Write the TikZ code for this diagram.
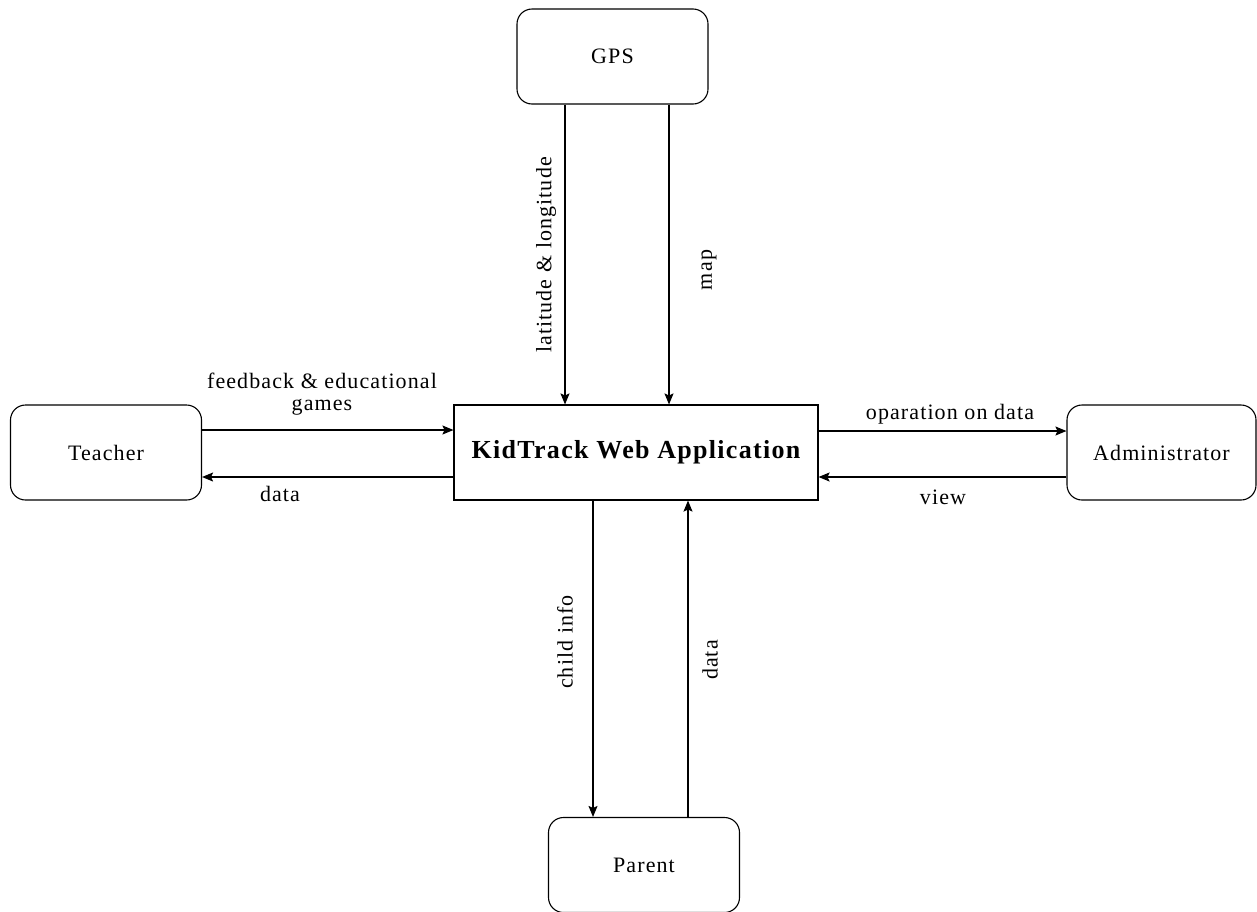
\documentclass[tikz,border=0pt]{standalone}
\usepackage{fontspec}
\setmainfont{Liberation Serif}[LetterSpace=5]
\usetikzlibrary{arrows.meta}
\begin{document}
\begin{tikzpicture}[x=1pt,y=-1pt,
  ent/.style={draw,rounded corners=15pt,line width=1.1pt,minimum width=191pt,minimum height=95pt,font=\fontsize{22}{24}\selectfont,inner sep=0pt},
  conn/.style={line width=1.1pt,-{Stealth[length=11pt,width=9pt,inset=2pt]}},
  lbl/.style={font=\fontsize{22}{22}\selectfont,inner sep=0pt}]
\useasboundingbox (0,0) rectangle (1257,911);
\node[ent] (gps) at (612.5,56.5) {GPS};
\node[ent] (teacher) at (106,452.5) {Teacher};
\node[ent,minimum width=189pt] (admin) at (1161.5,452.5) {Administrator};
\node[ent] (parent) at (644,865) {Parent};
\node[draw,line width=1.1pt,minimum width=364pt,minimum height=95pt,inner sep=0pt,font=\fontsize{26}{30}\selectfont\bfseries] (main) at (636,452.5) {KidTrack Web Application};
% GPS arrows
\draw[conn] (gps.south -| 565,0) -- (main.north -| 565,0);
\draw[conn] (gps.south -| 669,0) -- (main.north -| 669,0);
\node[lbl,rotate=90] (l1) at (546,255) {latitude \& longitude};
\node[lbl,rotate=90] (l2) at (709,270) {map};
% Teacher
\draw[conn] (teacher.east |- 0,430) -- (main.west |- 0,430);
\draw[conn] (main.west |- 0,477) -- (teacher.east |- 0,477);
\node[lbl,align=center] (l3) at (322,394) {feedback \& educational\\games};
\node[lbl] (l4) at (280,494) {data};
% Admin
\draw[conn] (main.east |- 0,431) -- (admin.west |- 0,431);
\draw[conn] (admin.west |- 0,477) -- (main.east |- 0,477);
\node[lbl] (l5) at (950,414) {oparation on data};
\node[lbl] (l6) at (943,497) {view};
% Parent
\draw[conn] (main.south -| 593,0) -- (parent.north -| 593,0);
\draw[conn] (parent.north -| 688,0) -- (main.south -| 688,0);
\node[lbl,rotate=90] (l7) at (565,642) {child info};
\node[lbl,rotate=90] (l8) at (710,660) {data};
\end{tikzpicture}
\end{document}
